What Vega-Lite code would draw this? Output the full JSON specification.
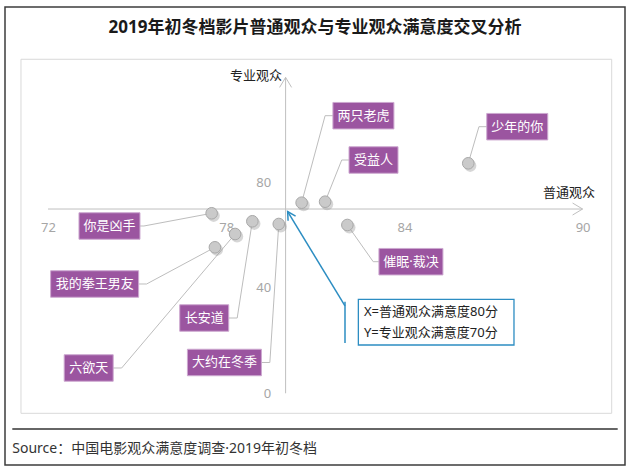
{
  "$schema": "https://vega.github.io/schema/vega-lite/v6.json",
  "width": 620,
  "height": 458,
  "autosize": {"type": "none"},
  "padding": {"left": 5, "top": 7, "right": 5, "bottom": 7},
  "background": "#ffffff",
  "config": {
    "font": "Noto Sans, Noto Sans CJK SC",
    "view": {"stroke": "#3c3c3c", "strokeWidth": 1.5}
  },
  "data": {
    "values": [
      {"name": "你是凶手", "x": 77.51, "y": 68.38, "lx": 74.07, "ly": 63.55, "ex": 75.23},
      {"name": "我的拳王男友", "x": 77.62, "y": 55.46, "lx": 73.57, "ly": 41.52, "ex": 75.32},
      {"name": "六欲天", "x": 78.30, "y": 60.51, "lx": 73.37, "ly": 9.61, "ex": 74.48},
      {"name": "长安道", "x": 78.88, "y": 65.34, "lx": 77.26, "ly": 28.60, "ex": 78.37},
      {"name": "大约在冬季", "x": 79.77, "y": 64.31, "lx": 77.94, "ly": 11.70, "ex": 79.47},
      {"name": "两只老虎", "x": 80.54, "y": 72.40, "lx": 82.62, "ly": 105.45, "ex": 81.33},
      {"name": "受益人", "x": 81.33, "y": 72.78, "lx": 82.96, "ly": 88.62, "ex": 81.89},
      {"name": "少年的你", "x": 86.15, "y": 87.37, "lx": 87.80, "ly": 101.27, "ex": 86.51},
      {"name": "催眠·裁决", "x": 82.08, "y": 63.93, "lx": 84.22, "ly": 49.99, "ex": 82.95}
    ]
  },
  "layer": [
    {
      "data": {"values": [{}]},
      "mark": {"type": "rect", "filled": false, "color": "#D9D9D9", "strokeWidth": 1},
      "encoding": {
        "x": {"datum": 71.09, "type": "quantitative",
          "scale": {"domain": [70.552, 91.428], "nice": false, "zero": false},
          "axis": {"values": [72, 78, 84, 90], "grid": false, "domain": false, "ticks": false,
            "labelColor": "#A6A6A6", "labelFontSize": 13, "labelPadding": 12, "offset": -256,
            "title": null, "labelFlush": false, "labelOverlap": false, "zindex": 0}},
        "x2": {"datum": 90.98},
        "y": {"datum": 126.88, "type": "quantitative",
          "scale": {"domain": [-27.24, 146.74], "nice": false, "zero": false},
          "axis": {"values": [0, 40, 80], "grid": false, "domain": false, "ticks": false,
            "labelColor": "#A6A6A6", "labelFontSize": 13, "labelPadding": 15, "offset": -280.6,
            "title": null, "labelFlush": false, "labelOverlap": false, "zindex": 0}},
        "y2": {"datum": -7.6}
      }
    },
    {
      "data": {"values": [{}]},
      "mark": {"type": "rule", "color": "#333333", "strokeWidth": 1.5},
      "encoding": {
        "x": {"datum": 70.798, "type": "quantitative"},
        "x2": {"datum": 91.182},
        "y": {"datum": -13.56, "type": "quantitative"}
      }
    },
    {
      "data": {"values": [{}]},
      "mark": {"type": "text", "text": "2019年初冬档影片普通观众与专业观众满意度交叉分析",
        "fontSize": 17, "fontWeight": "bold", "align": "center", "baseline": "middle", "color": "#1a1a1a"},
      "encoding": {
        "x": {"datum": 80.99, "type": "quantitative"},
        "y": {"datum": 138.65, "type": "quantitative"}
      }
    },
    {
      "data": {"values": [{}]},
      "mark": {"type": "text", "text": "Source：中国电影观众满意度调查·2019年初冬档",
        "fontSize": 14, "align": "left", "baseline": "middle", "color": "#333333"},
      "encoding": {
        "x": {"datum": 70.798, "type": "quantitative"},
        "y": {"datum": -21.27, "type": "quantitative"}
      }
    },
    {
      "data": {"values": [{}]},
      "mark": {"type": "rule", "color": "#BFBFBF", "strokeWidth": 1},
      "encoding": {
        "x": {"datum": 72, "type": "quantitative"},
        "x2": {"datum": 90},
        "y": {"datum": 70, "type": "quantitative"}
      }
    },
    {
      "data": {"values": [{}]},
      "mark": {"type": "rule", "color": "#BFBFBF", "strokeWidth": 1},
      "encoding": {
        "x": {"datum": 80, "type": "quantitative"},
        "y": {"datum": 0, "type": "quantitative"},
        "y2": {"datum": 120}
      }
    },
    {
      "data": {"values": [{}]},
      "mark": {"type": "point", "shape": "M-0.6,1L0,0L0.6,1", "size": 400, "filled": false,
        "color": "#BFBFBF", "strokeWidth": 1, "angle": 90, "opacity": 1},
      "encoding": {
        "x": {"datum": 90, "type": "quantitative"},
        "y": {"datum": 70, "type": "quantitative"}
      }
    },
    {
      "data": {"values": [{}]},
      "mark": {"type": "point", "shape": "M-0.6,1L0,0L0.6,1", "size": 400, "filled": false,
        "color": "#BFBFBF", "strokeWidth": 1, "angle": 0, "opacity": 1},
      "encoding": {
        "x": {"datum": 80, "type": "quantitative"},
        "y": {"datum": 120, "type": "quantitative"}
      }
    },
    {
      "data": {"values": [{}]},
      "mark": {"type": "text", "text": "普通观众", "fontSize": 13, "align": "center", "baseline": "middle", "color": "#222222"},
      "encoding": {
        "x": {"datum": 89.54, "type": "quantitative"},
        "y": {"datum": 75.97, "type": "quantitative"}
      }
    },
    {
      "data": {"values": [{}]},
      "mark": {"type": "text", "text": "专业观众", "fontSize": 13, "align": "center", "baseline": "middle", "color": "#222222"},
      "encoding": {
        "x": {"datum": 79.0, "type": "quantitative"},
        "y": {"datum": 120.53, "type": "quantitative"}
      }
    },
    {
      "mark": {"type": "rule", "color": "#BDBDBD", "strokeWidth": 1},
      "encoding": {
        "x": {"field": "x", "type": "quantitative"},
        "y": {"field": "y", "type": "quantitative"},
        "x2": {"field": "ex"},
        "y2": {"field": "ly"}
      }
    },
    {
      "mark": {"type": "rule", "color": "#BDBDBD", "strokeWidth": 1},
      "encoding": {
        "x": {"field": "ex", "type": "quantitative"},
        "x2": {"field": "lx"},
        "y": {"field": "ly", "type": "quantitative"}
      }
    },
    {
      "data": {"values": [{}]},
      "mark": {"type": "rule", "color": "#2C8DC2", "strokeWidth": 1.5},
      "encoding": {
        "x": {"datum": 80.07, "type": "quantitative"},
        "y": {"datum": 69.0, "type": "quantitative"},
        "x2": {"datum": 82.0},
        "y2": {"datum": 33.2}
      }
    },
    {
      "data": {"values": [{}]},
      "mark": {"type": "rule", "color": "#2C8DC2", "strokeWidth": 1.5},
      "encoding": {
        "x": {"datum": 82.0, "type": "quantitative"},
        "y": {"datum": 34.8, "type": "quantitative"},
        "y2": {"datum": 19.1}
      }
    },
    {
      "data": {"values": [{}]},
      "mark": {"type": "point", "shape": "M-0.55,1L0,0L0.55,1", "size": 256, "filled": false,
        "color": "#2C8DC2", "strokeWidth": 1.5, "angle": 328.7, "opacity": 1},
      "encoding": {
        "x": {"datum": 80.07, "type": "quantitative"},
        "y": {"datum": 69.0, "type": "quantitative"}
      }
    },
    {
      "data": {"values": [{}]},
      "mark": {"type": "rect", "fill": "#ffffff", "stroke": "#2C8DC2", "strokeWidth": 1.3},
      "encoding": {
        "x": {"datum": 82.45, "type": "quantitative"},
        "x2": {"datum": 87.69},
        "y": {"datum": 35.71, "type": "quantitative"},
        "y2": {"datum": 18.35}
      }
    },
    {
      "data": {"values": [{}]},
      "mark": {"type": "text", "text": "X=普通观众满意度80分", "fontSize": 13, "align": "left", "baseline": "middle", "color": "#222222"},
      "encoding": {
        "x": {"datum": 82.64, "type": "quantitative"},
        "y": {"datum": 31.03, "type": "quantitative"}
      }
    },
    {
      "data": {"values": [{}]},
      "mark": {"type": "text", "text": "Y=专业观众满意度70分", "fontSize": 13, "align": "left", "baseline": "middle", "color": "#222222"},
      "encoding": {
        "x": {"datum": 82.64, "type": "quantitative"},
        "y": {"datum": 22.79, "type": "quantitative"}
      }
    },
    {
      "mark": {"type": "circle", "size": 150, "color": "#8A8A8A", "opacity": 0.35, "xOffset": 2, "yOffset": 2.5},
      "encoding": {
        "x": {"field": "x", "type": "quantitative"},
        "y": {"field": "y", "type": "quantitative"}
      }
    },
    {
      "mark": {"type": "circle", "size": 135, "fill": "#CACACA", "stroke": "#A8A8A8", "strokeWidth": 1, "opacity": 1},
      "encoding": {
        "x": {"field": "x", "type": "quantitative"},
        "y": {"field": "y", "type": "quantitative"}
      }
    },
    {
      "mark": {"type": "point", "filled": true, "size": 10000, "fill": "#9B55A0", "stroke": "#CDA8D0", "strokeWidth": 1, "opacity": 1},
      "encoding": {
        "x": {"field": "lx", "type": "quantitative"},
        "y": {"field": "ly", "type": "quantitative"},
        "shape": {"field": "name", "type": "nominal", "legend": null,
          "scale": {
            "domain": ["你是凶手", "我的拳王男友", "六欲天", "长安道", "大约在冬季", "两只老虎", "受益人", "少年的你", "催眠·裁决"],
            "range": [
              "M-0.61,-0.265H0.61V0.265H-0.61Z",
              "M-0.88,-0.265H0.88V0.265H-0.88Z",
              "M-0.49,-0.265H0.49V0.265H-0.49Z",
              "M-0.49,-0.265H0.49V0.265H-0.49Z",
              "M-0.74,-0.265H0.74V0.265H-0.74Z",
              "M-0.61,-0.265H0.61V0.265H-0.61Z",
              "M-0.49,-0.265H0.49V0.265H-0.49Z",
              "M-0.61,-0.265H0.61V0.265H-0.61Z",
              "M-0.64,-0.265H0.64V0.265H-0.64Z"
            ]
          }
        }
      }
    },
    {
      "mark": {"type": "text", "fontSize": 13, "align": "center", "baseline": "middle", "color": "#ffffff"},
      "encoding": {
        "x": {"field": "lx", "type": "quantitative"},
        "y": {"field": "ly", "type": "quantitative"},
        "text": {"field": "name", "type": "nominal"}
      }
    }
  ]
}
